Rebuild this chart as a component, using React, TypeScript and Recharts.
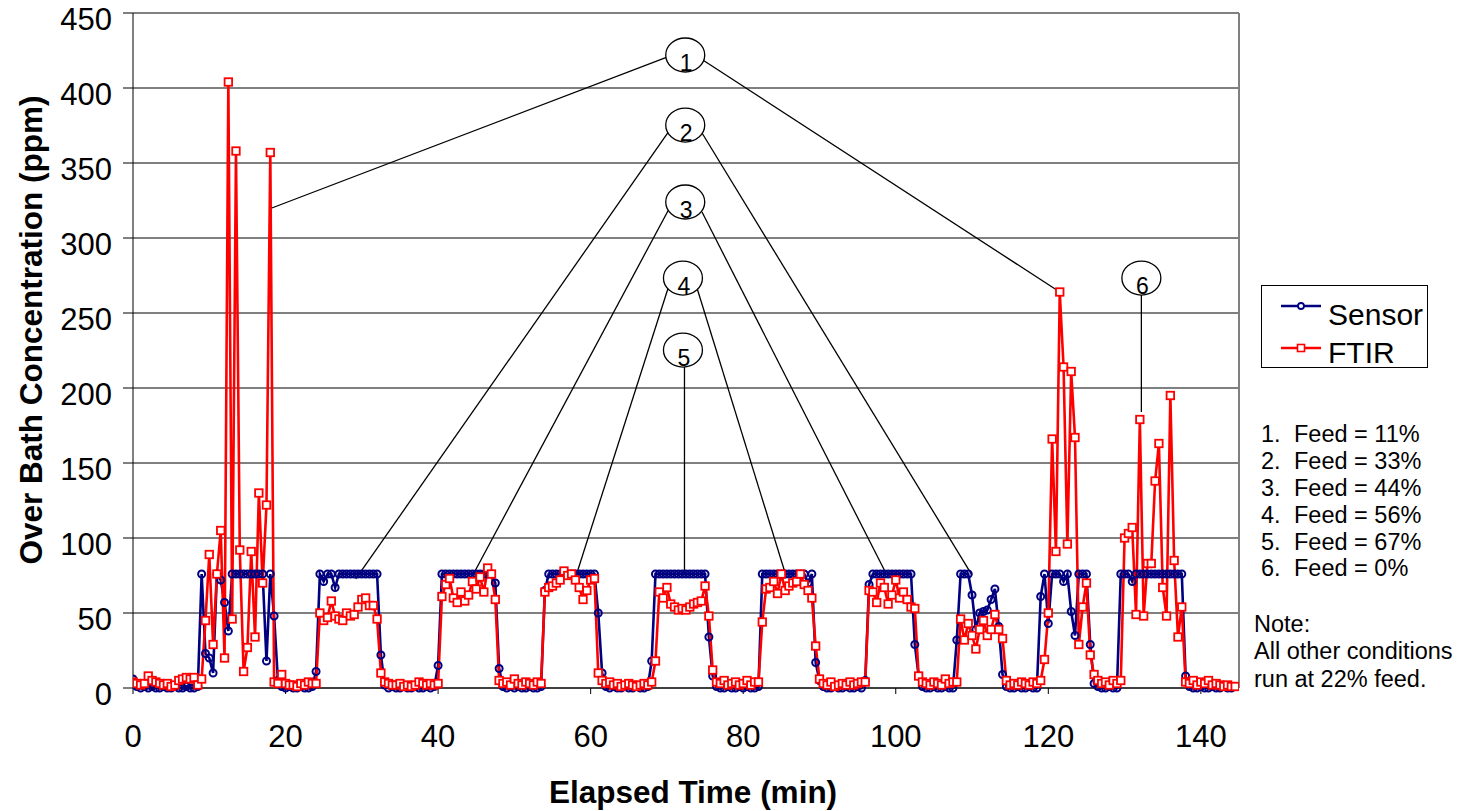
import React from "react";
import {
  LineChart,
  Line,
  XAxis,
  YAxis,
  CartesianGrid,
  Legend,
  ReferenceLine,
  ReferenceDot,
} from "recharts";

// samples every half minute, 0 .. 144.5 min
const SAMPLE_MIN = 0.5;

// sensor reading (ppm), one row per 10 min
const sensorPpm = [
  6, 1, 0, 1, 0, 1, 0, 0, 1, 0, 0, 1, 0, 0, 1, 0, 0, 1, 76, 23,
  20, 10, 76, 72, 57, 38, 76, 76, 76, 76, 76, 76, 76, 76, 76, 18, 76, 48, 5, 1,
  0, 1, 0, 0, 1, 0, 0, 1, 11, 76, 71, 76, 76, 67, 76, 76, 76, 76, 76, 76,
  76, 76, 76, 76, 76, 22, 2, 0, 1, 0, 0, 1, 0, 0, 1, 0, 0, 1, 0, 1,
  15, 76, 76, 76, 76, 76, 76, 76, 76, 76, 76, 76, 76, 76, 76, 70, 13, 1, 0, 1,
  0, 1, 0, 0, 1, 0, 0, 1, 65, 76, 76, 76, 76, 76, 76, 76, 76, 76, 76, 76,
  76, 76, 50, 10, 1, 0, 1, 0, 0, 1, 0, 0, 1, 0, 0, 1, 18, 76, 76, 76,
  76, 76, 76, 76, 76, 76, 76, 76, 76, 76, 76, 34, 8, 1, 0, 0, 1, 0, 0, 1,
  0, 1, 0, 0, 1, 76, 76, 76, 76, 76, 76, 76, 76, 76, 76, 76, 76, 70, 76, 17,
  5, 1, 0, 0, 1, 0, 0, 1, 0, 0, 1, 0, 5, 69, 76, 76, 76, 76, 76, 76,
  76, 76, 76, 76, 76, 29, 8, 1, 0, 0, 1, 0, 0, 1, 0, 0, 32, 76, 76, 76,
  62, 39, 50, 51, 52, 59, 66, 41, 9, 1, 0, 0, 1, 0, 0, 1, 0, 0, 61, 76,
  43, 76, 76, 76, 71, 76, 51, 35, 76, 76, 76, 29, 3, 1, 0, 0, 1, 0, 0, 76,
  76, 76, 71, 76, 76, 76, 76, 76, 76, 76, 76, 76, 76, 76, 76, 76, 8, 1, 0, 0,
  1, 0, 0, 1, 0, 0, 1, 0, 0, 1,
];

// FTIR reading (ppm), same sampling
const ftirPpm = [
  4, 3, 2, 3, 8, 5, 4, 3, 2, 3, 1, 2, 5, 6, 7, 6, 7, 2, 6, 45,
  89, 29, 76, 105, 20, 404, 46, 358, 92, 11, 27, 91, 34, 130, 70, 122, 357, 4, 3, 9,
  3, 2, 2, 1, 3, 2, 4, 3, 3, 50, 45, 47, 58, 48, 46, 45, 50, 48, 49, 54,
  59, 60, 55, 55, 46, 10, 4, 3, 2, 2, 3, 1, 2, 1, 2, 4, 3, 2, 3, 2,
  3, 61, 69, 73, 60, 57, 64, 58, 62, 71, 66, 74, 64, 80, 76, 59, 5, 3, 4, 2,
  6, 3, 2, 4, 3, 2, 4, 3, 64, 67, 68, 70, 72, 78, 75, 76, 72, 67, 59, 65,
  72, 73, 10, 5, 3, 4, 2, 3, 1, 2, 3, 2, 1, 2, 3, 2, 4, 18, 64, 60,
  67, 56, 54, 52, 53, 52, 54, 56, 57, 58, 68, 48, 12, 4, 3, 5, 2, 3, 4, 2,
  3, 5, 2, 4, 4, 44, 66, 67, 71, 63, 76, 65, 68, 70, 71, 76, 69, 65, 60, 28,
  6, 3, 2, 4, 1, 2, 3, 2, 4, 2, 3, 4, 4, 65, 64, 57, 70, 67, 56, 62,
  72, 60, 64, 59, 54, 53, 8, 4, 3, 2, 4, 3, 2, 6, 3, 4, 4, 46, 32, 43,
  35, 26, 39, 45, 35, 39, 49, 39, 33, 5, 2, 3, 2, 4, 3, 2, 4, 3, 5, 19,
  50, 166, 91, 264, 214, 96, 211, 167, 29, 54, 70, 22, 9, 5, 3, 4, 2, 5, 3, 5,
  100, 103, 107, 49, 179, 48, 83, 83, 138, 163, 67, 48, 195, 85, 34, 54, 4, 3, 5, 2,
  4, 3, 5, 2, 3, 2, 1, 2, 1, 1,
];

const xTicks = [0, 20, 40, 60, 80, 100, 120, 140];
const yTicks = [0, 50, 100, 150, 200, 250, 300, 350, 400, 450];

// numbered callouts (data coords) and their leader lines [t1, v1, t2, v2]
const callouts = [
  { n: "1", t: 72.4, v: 422 },
  { n: "2", t: 72.4, v: 375.3 },
  { n: "3", t: 72.4, v: 324 },
  { n: "4", t: 72.1, v: 273.3 },
  { n: "5", t: 72.1, v: 225.3 },
  { n: "6", t: 132.2, v: 273.3 },
];
const leaders = [
  [70.1, 420.7, 18.2, 320],
  [74.7, 418.7, 121.1, 265.3],
  [70.2, 370.7, 29.2, 72.7],
  [74.6, 370, 110.0, 75.3],
  [70.2, 318.7, 44.7, 76.7],
  [74.6, 317.3, 98.7, 76.7],
  [70.2, 267.3, 58.2, 76.7],
  [73.9, 267.3, 85.5, 76.7],
  [72.3, 214, 72.3, 76.7],
  [132.2, 262, 132.2, 184],
];

const feedNotes = ["Feed = 11%", "Feed = 33%", "Feed = 44%", "Feed = 56%", "Feed = 67%", "Feed = 0%"];
const noteLines = ["Note:", "All other conditions", "run at 22% feed."];

const NAVY = "#000080";
const RED = "#FF0000";
const FONT = "'Liberation Sans', Arial, sans-serif";

const data = sensorPpm.map((v, i) => ({
  t: i * SAMPLE_MIN,
  Sensor: v,
  FTIR: ftirPpm[i],
}));

const FtirDot = (p: any) => {
  if (p.cx == null || p.cy == null) return <g key={`f${p.index}`} />;
  return (
    <rect
      key={`f${p.index}`}
      x={p.cx - 3.75}
      y={p.cy - 3.75}
      width={7.5}
      height={7.5}
      fill="#fff"
      stroke={RED}
      strokeWidth={1.8}
    />
  );
};

const renderLegend = () => (
  <svg width={168} height={84} style={{ display: "block", fontFamily: FONT }}>
    <rect x={0.5} y={0.5} width={166} height={82} fill="#fff" stroke="#000" strokeWidth={1} />
    <line x1={20} y1={21} x2={60} y2={21} stroke={NAVY} strokeWidth={2.5} />
    <circle cx={40} cy={21} r={3} fill="#fff" stroke={NAVY} strokeWidth={1.8} />
    <text x={67} y={40} fontSize={30} fill="#000">Sensor</text>
    <line x1={20} y1={63} x2={60} y2={63} stroke={RED} strokeWidth={2.5} />
    <rect x={36.5} y={59.5} width={7} height={7} fill="#fff" stroke={RED} strokeWidth={1.6} />
    <text x={67} y={78} fontSize={30} fill="#000">FTIR</text>
  </svg>
);

export default function App() {
  return (
    <div style={{ position: "absolute", left: 0, top: 0, width: 1462, height: 811, background: "#fff", fontFamily: FONT }}>
      <LineChart
        width={1462}
        height={811}
        data={data}
        margin={{ top: 13, right: 223, bottom: 0, left: 0 }}
      >
        <CartesianGrid horizontal vertical={false} stroke="#000" strokeWidth={1} />
        <XAxis
          dataKey="t"
          type="number"
          domain={[0, 145]}
          ticks={xTicks}
          interval={0}
          allowDataOverflow
          height={123}
          tickSize={6}
          tickMargin={31}
          stroke="#000"
          tick={{ fontSize: 31, fill: "#000", fontFamily: FONT }}
          label={{
            content: () => (
              <text x={693} y={803} textAnchor="middle" fontSize={31.5} fontWeight="bold" fontFamily={FONT} fill="#000">
                Elapsed Time (min)
              </text>
            ),
          }}
        />
        <YAxis
          type="number"
          domain={[0, 450]}
          ticks={yTicks}
          interval={0}
          width={133}
          tickSize={10}
          tickMargin={11}
          stroke="#000"
          tick={{ fontSize: 31, fill: "#000", fontFamily: FONT, dy: 6 }}
          label={{
            content: () => (
              <text
                x={42}
                y={330}
                transform="rotate(-90 42 330)"
                textAnchor="middle"
                fontSize={31.5}
                fontWeight="bold"
                fontFamily={FONT}
                fill="#000"
              >
                Over Bath Concentration (ppm)
              </text>
            ),
          }}
        />
        <ReferenceLine y={450} stroke="#808080" strokeWidth={1.5} />
        <ReferenceLine x={145} stroke="#808080" strokeWidth={2} />
        <Legend
          layout="vertical"
          align="center"
          verticalAlign="middle"
          wrapperStyle={{ left: 1261, top: 285, width: 168, height: 84 }}
          content={renderLegend}
        />
        <Line
          type="linear"
          dataKey="Sensor"
          stroke={NAVY}
          strokeWidth={2.6}
          dot={{ r: 3.5, fill: "none", stroke: NAVY, strokeWidth: 2 }}
          activeDot={false}
          isAnimationActive={false}
        />
        <Line
          type="linear"
          dataKey="FTIR"
          stroke={RED}
          strokeWidth={2.6}
          dot={FtirDot}
          activeDot={false}
          isAnimationActive={false}
        />
        {leaders.map(([t1, v1, t2, v2], i) => (
          <ReferenceLine
            key={`l${i}`}
            segment={[
              { x: t1, y: v1 },
              { x: t2, y: v2 },
            ]}
            stroke="#000"
            strokeWidth={1.3}
          />
        ))}
        {callouts.map((c) => (
          <ReferenceDot
            key={`c${c.n}`}
            x={c.t}
            y={c.v}
            r={17}
            shape={(p: any) => (
              <g>
                <ellipse cx={p.cx} cy={p.cy} rx={19.5} ry={17} fill="#fff" stroke="#000" strokeWidth={1.3} />
                <text x={p.cx + 1} y={p.cy + 16} textAnchor="middle" fontSize={23} fontFamily={FONT} fill="#000">
                  {c.n}
                </text>
              </g>
            )}
          />
        ))}
      </LineChart>
      <svg
        width={222}
        height={300}
        style={{ position: "absolute", left: 1240, top: 400, pointerEvents: "none" }}
        fontFamily={FONT}
      >
        {feedNotes.map((s, i) => (
          <g key={s}>
            <text x={21} y={42.3 + i * 26.8} fontSize={23.5} fill="#000">{`${i + 1}.`}</text>
            <text x={54} y={42.3 + i * 26.8} fontSize={23.5} fill="#000">{s}</text>
          </g>
        ))}
        {noteLines.map((s, i) => (
          <text key={s} x={14} y={231.7 + i * 27.5} fontSize={23.5} fill="#000">{s}</text>
        ))}
      </svg>
    </div>
  );
}
